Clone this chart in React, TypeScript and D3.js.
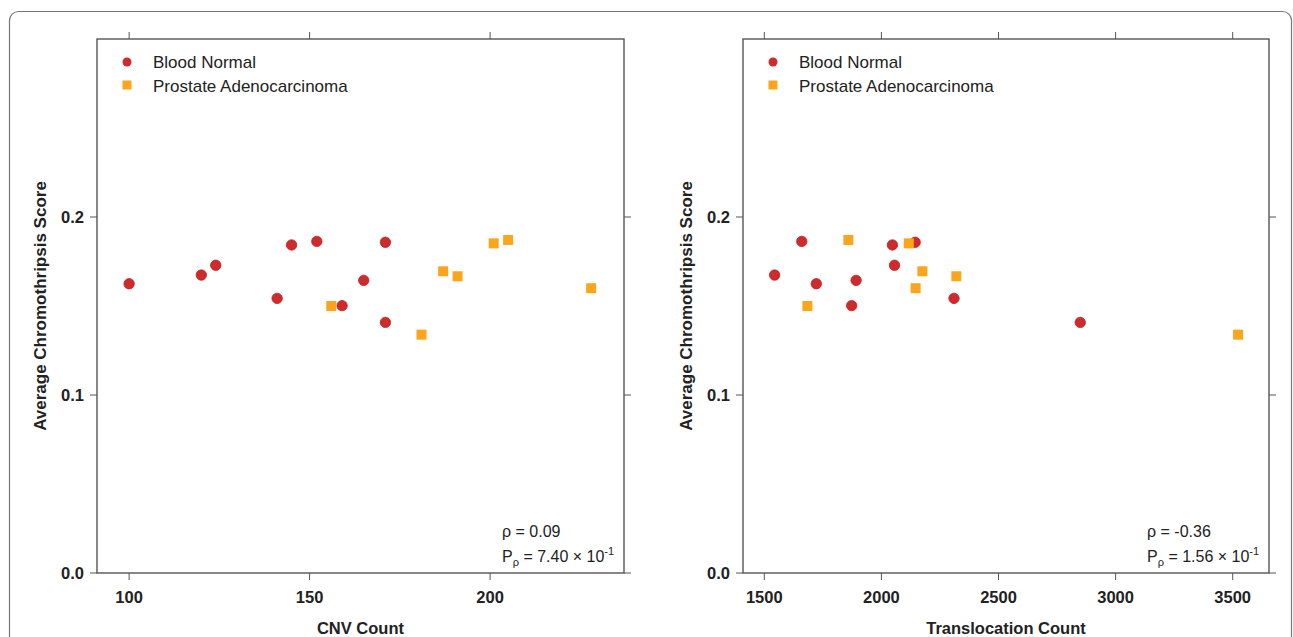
import React from 'react';
import * as d3 from 'd3';

// Chromothripsis score (y) shared by both panels
const normalScore = [0.1625, 0.1674, 0.1729, 0.1843, 0.1863, 0.1858, 0.1543, 0.1644, 0.1502, 0.1408];
const tumorScore = [0.150, 0.1695, 0.1667, 0.1852, 0.1871, 0.1339, 0.160];

// CNV counts (left panel)
const normalCnv = [100, 120, 124, 145, 152, 171, 141, 165, 159, 171];
const tumorCnv = [156, 187, 191, 201, 205, 181, 228];

// Translocation counts (right panel), matched to the same samples
const normalTrans = [1722, 1544, 2056, 2047, 1660, 2144, 2310, 1892, 1873, 2849];
const tumorTrans = [1684, 2175, 2320, 2117, 1859, 3523, 2146];

const cnvTicks = [100, 150, 200];
const transTicks = [1500, 2000, 2500, 3000, 3500];
const scoreTicks = [0.0, 0.1, 0.2];

const legendLabels = ['Blood Normal', 'Prostate Adenocarcinoma'];

const RED = '#cf2a2c';
const ORANGE = '#fba51c';
const AXIS = '#555';
const FONT = '"Liberation Sans", Arial, Helvetica, sans-serif';

interface PanelProps {
  left: number;
  right: number;
  xDomain: [number, number];
  xTicks: number[];
  normalX: number[];
  tumorX: number[];
  xTitle: string;
  rho: string;
  pMant: string;
}

const top = 39;
const bottom = 573;
const tick = 7;

const Panel: React.FC<PanelProps> = ({ left, right, xDomain, xTicks, normalX, tumorX, xTitle, rho, pMant }) => {
  const x = d3.scaleLinear().domain(xDomain).range([left, right]);
  const y = d3.scaleLinear().domain([0, 0.3]).range([bottom, top]);
  const sq = 10;

  return (
    <g fontFamily={FONT}>
      {/* markers */}
      {normalX.map((v, i) => (
        <circle key={`n${i}`} cx={x(v)} cy={y(normalScore[i])} r={5.2} fill={RED} stroke="#b82226" strokeWidth={0.8} />
      ))}
      {tumorX.map((v, i) => (
        <rect key={`t${i}`} x={x(v) - sq / 2} y={y(tumorScore[i]) - sq / 2} width={sq} height={sq} fill={ORANGE} />
      ))}

      {/* frame */}
      <rect x={left} y={top} width={right - left} height={bottom - top} fill="none" stroke={AXIS} strokeWidth={1.4} />

      {/* x ticks, bottom and top */}
      {xTicks.map(t => (
        <g key={`x${t}`}>
          <line x1={x(t)} x2={x(t)} y1={bottom} y2={bottom + tick} stroke={AXIS} />
          <line x1={x(t)} x2={x(t)} y1={top} y2={top - tick} stroke={AXIS} />
          <text x={x(t)} y={603} textAnchor="middle" fontSize={16.5} fontWeight="bold" fill="#222">{t}</text>
        </g>
      ))}

      {/* y ticks, left and right */}
      {scoreTicks.map(t => (
        <g key={`y${t}`}>
          <line x1={left} x2={left - tick} y1={y(t)} y2={y(t)} stroke={AXIS} />
          <line x1={right} x2={right + tick} y1={y(t)} y2={y(t)} stroke={AXIS} />
          <text x={left - 13} y={y(t)} dy="0.36em" textAnchor="end" fontSize={16.5} fontWeight="bold" fill="#222">
            {t.toFixed(1)}
          </text>
        </g>
      ))}

      {/* axis titles */}
      <text x={(left + right) / 2} y={634} textAnchor="middle" fontSize={16.5} fontWeight="bold" fill="#222">{xTitle}</text>
      <text
        transform={`translate(${left - 51}, ${(top + bottom) / 2}) rotate(-90)`}
        textAnchor="middle"
        fontSize={17}
        fontWeight="bold"
        fill="#222"
      >
        Average Chromothripsis Score
      </text>

      {/* legend */}
      <circle cx={left + 30} cy={62} r={4.5} fill={RED} />
      <rect x={left + 25.5} y={80.5} width={9} height={9} fill={ORANGE} />
      <text x={left + 56} y={68} fontSize={17} fill="#222">{legendLabels[0]}</text>
      <text x={left + 56} y={92} fontSize={17} fill="#222">{legendLabels[1]}</text>

      {/* correlation */}
      <text x={right - 122} y={537} fontSize={16} fill="#222">{`ρ = ${rho}`}</text>
      <text x={right - 122} y={562} fontSize={16} fill="#222">
        P
        <tspan fontSize={11} dy={4}>ρ</tspan>
        <tspan dy={-4}>{` = ${pMant} × 10`}</tspan>
        <tspan fontSize={11} dy={-7}>-1</tspan>
      </text>
    </g>
  );
};

const App: React.FC = () => (
  <svg
    width={1293}
    height={637}
    style={{ position: 'absolute', left: 0, top: 0, background: '#fff' }}
  >
    <rect x={9.5} y={11.5} width={1282} height={700} rx={9} fill="#fff" stroke="#777" strokeWidth={1.2} />
    <Panel
      left={97}
      right={624}
      xDomain={[91.1, 237.1]}
      xTicks={cnvTicks}
      normalX={normalCnv}
      tumorX={tumorCnv}
      xTitle="CNV Count"
      rho="0.09"
      pMant="7.40"
    />
    <Panel
      left={743}
      right={1269}
      xDomain={[1409, 3655]}
      xTicks={transTicks}
      normalX={normalTrans}
      tumorX={tumorTrans}
      xTitle="Translocation Count"
      rho="-0.36"
      pMant="1.56"
    />
  </svg>
);

export default App;
